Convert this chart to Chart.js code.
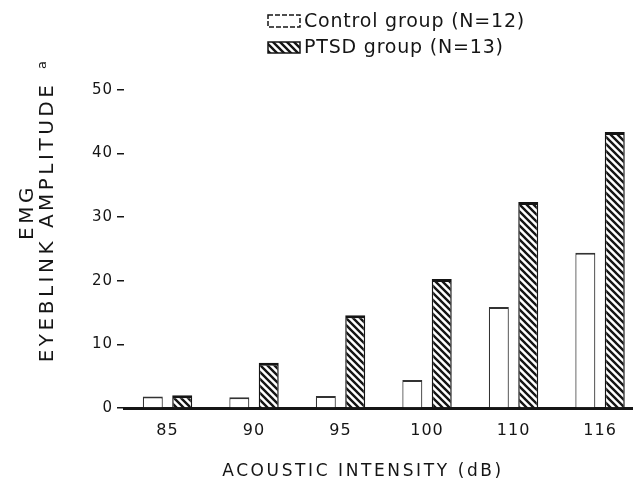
<!DOCTYPE html>
<html>
<head>
<meta charset="utf-8">
<script src="https://cdn.jsdelivr.net/npm/chart.js@4.4.1/dist/chart.umd.min.js"></script>
<style>
  html, body { margin: 0; padding: 0; background: #fff; }
  #wrap { width: 633px; height: 490px; }
</style>
</head>
<body>
<div id="wrap"><canvas id="chart" width="633" height="490"></canvas></div>
<script>
const intensities = ["85", "90", "95", "100", "110", "116"];
const controlGroup = [1.8, 1.7, 1.9, 4.4, 15.9, 24.4];
const ptsdGroup = [2.0, 7.1, 14.6, 20.3, 32.4, 43.4];
const yTicks = [0, 10, 20, 30, 40, 50];
const seriesNames = ["Control group (N=12)", "PTSD group (N=13)"];
const yTitle = ["EMG", "EYEBLINK AMPLITUDE"];
const xTitle = "ACOUSTIC INTENSITY (dB)";

const ink = "#151515";
const fontFamily = "'DejaVu Sans', sans-serif";

// diagonal "\\\" hatch used for the PTSD bars
function hatch(step, width) {
  const c = document.createElement("canvas");
  c.width = step;
  c.height = step;
  const g = c.getContext("2d");
  g.fillStyle = "#fff";
  g.fillRect(0, 0, step, step);
  g.strokeStyle = ink;
  g.lineWidth = width;
  g.beginPath();
  g.moveTo(-1, -1); g.lineTo(step + 1, step + 1);
  g.moveTo(-1, step - 1); g.lineTo(1, step + 1);
  g.moveTo(step - 1, -1); g.lineTo(step + 1, 1);
  g.stroke();
  return g.createPattern(c, "repeat");
}
const stripes = hatch(7, 2.4);

// legend + axis titles drawn straight onto the canvas, like the paper figure
const paperText = {
  id: "paperText",
  beforeDraw(chart) {
    chart.ctx.letterSpacing = "1px";
  },
  afterDraw(chart) {
    const ctx = chart.ctx;
    ctx.save();
    ctx.fillStyle = ink;
    ctx.strokeStyle = ink;
    ctx.textBaseline = "middle";

    // legend
    ctx.lineWidth = 1.5;
    ctx.setLineDash([5, 2]);
    ctx.fillStyle = "#fff";
    ctx.fillRect(268, 15, 32, 12);
    ctx.strokeRect(268, 15, 32, 12);
    ctx.setLineDash([]);
    ctx.fillStyle = stripes;
    ctx.fillRect(268, 42, 32, 11);
    ctx.strokeRect(268, 42, 32, 11);
    ctx.fillStyle = ink;
    ctx.font = "19px " + fontFamily;
    ctx.letterSpacing = "0.8px";
    ctx.textAlign = "left";
    ctx.fillText(seriesNames[0], 304, 22);
    ctx.fillText(seriesNames[1], 304, 48);

    // y title, two rotated lines
    ctx.font = "20px " + fontFamily;
    ctx.letterSpacing = "3.5px";
    ctx.textAlign = "center";
    ctx.save();
    ctx.translate(28, 212);
    ctx.rotate(-Math.PI / 2);
    ctx.fillText(yTitle[0], 0, 0);
    ctx.restore();
    ctx.save();
    ctx.translate(48, 222);
    ctx.rotate(-Math.PI / 2);
    ctx.fillText(yTitle[1], 0, 0);
    ctx.restore();
    ctx.save();
    ctx.translate(43, 65);
    ctx.rotate(-Math.PI / 2);
    ctx.font = "13px " + fontFamily;
    ctx.letterSpacing = "0px";
    ctx.fillText("a", 0, 0);
    ctx.restore();

    // x title
    ctx.font = "17px " + fontFamily;
    ctx.letterSpacing = "2.6px";
    ctx.fillText(xTitle, 363, 472);
    ctx.restore();
  }
};

new Chart(document.getElementById("chart"), {
  type: "bar",
  data: {
    datasets: [
      {
        label: seriesNames[0],
        data: controlGroup.map((v, i) => ({ x: i, y: v })),
        backgroundColor: "#fff",
        borderColor: "#333",
        borderWidth: { top: 2, left: 1.2, right: 1.2, bottom: 0 },
        borderSkipped: false,
      },
      {
        label: seriesNames[1],
        data: ptsdGroup.map((v, i) => ({ x: i, y: v })),
        backgroundColor: stripes,
        borderColor: ink,
        borderWidth: { top: 3, left: 1.5, right: 1.5, bottom: 0 },
        borderSkipped: false,
      },
    ],
  },
  options: {
    responsive: false,
    animation: false,
    categoryPercentage: 0.68,
    barPercentage: 0.68,
    layout: { padding: { top: 90, right: 0, bottom: 0, left: 0 } },
    plugins: {
      legend: { display: false },
      tooltip: { enabled: false },
    },
    scales: {
      x: {
        type: "linear",
        offset: false,
        min: -0.503,
        max: 5.381,
        afterBuildTicks: (scale) => {
          scale.ticks = intensities.map((_, i) => ({ value: i }));
        },
        afterFit: (scale) => { scale.height = 82; },
        ticks: {
          autoSkip: false,
          maxRotation: 0,
          padding: 5,
          color: ink,
          font: { family: fontFamily, size: 16 },
          callback: (v) => intensities[v] ?? "",
        },
        grid: { display: false, offset: false },
        border: { display: true, color: ink, width: 3 },
      },
      y: {
        min: 0,
        max: 50,
        afterBuildTicks: (scale) => {
          scale.ticks = yTicks.map((v) => ({ value: v }));
        },
        afterFit: (scale) => { scale.width = 124; },
        ticks: {
          padding: 4,
          color: ink,
          font: { family: fontFamily, size: 15 },
        },
        grid: {
          display: true,
          drawOnChartArea: false,
          drawTicks: true,
          tickLength: 7,
          color: ink,
          lineWidth: 1.5,
        },
        border: { display: false },
      },
    },
  },
  plugins: [paperText],
});
</script>
</body>
</html>
